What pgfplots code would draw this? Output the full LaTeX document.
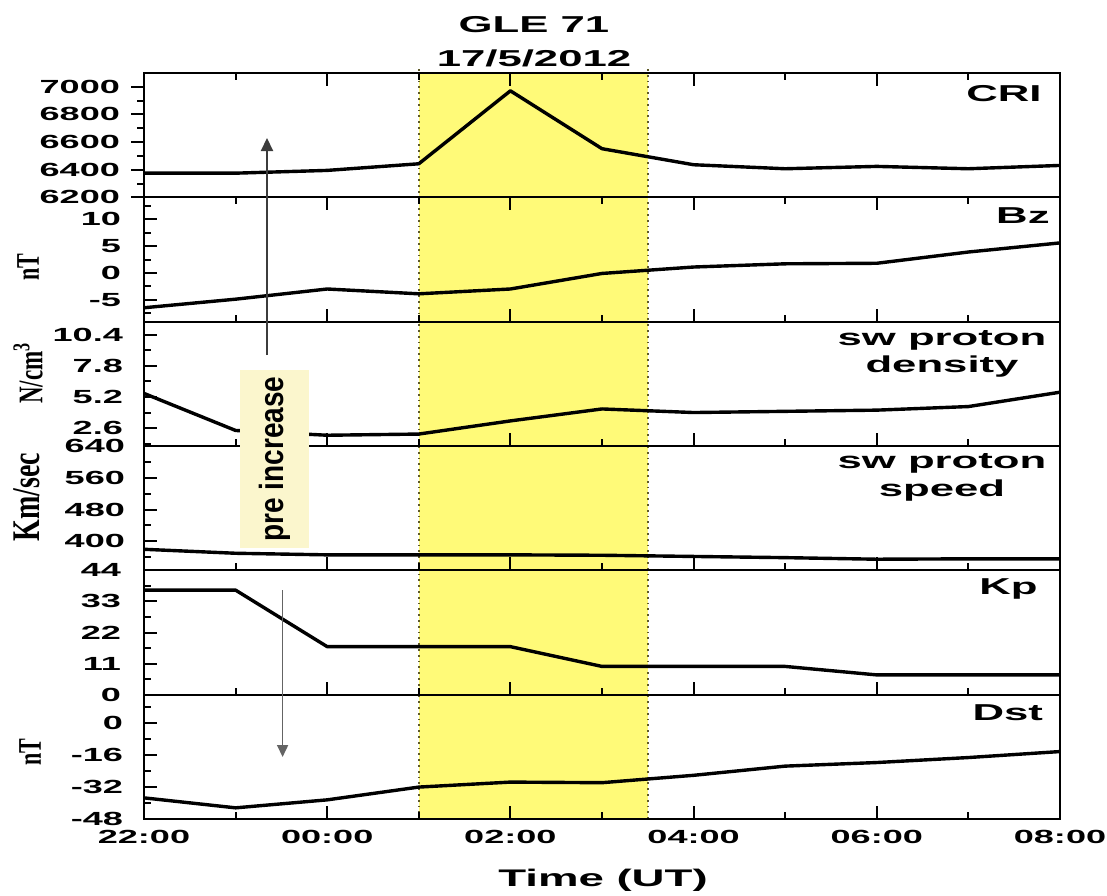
\documentclass[border=0pt]{standalone}
\usepackage{fontspec}
\usepackage{pgfplots}
\pgfplotsset{compat=1.18}
\usetikzlibrary{arrows.meta}

\newfontfamily\wide{Liberation Sans}[FakeStretch=1.9]
\newfontfamily\plainsans{Liberation Sans}
\newfontfamily\serifb{Liberation Serif}

\definecolor{band}{RGB}{255,250,120}
\definecolor{bandline}{RGB}{95,90,40}
\definecolor{labelbg}{RGB}{251,246,205}
\definecolor{arrowdark}{RGB}{60,60,60}
\definecolor{arrowgray}{RGB}{100,100,100}

\tikzset{
  plabel/.style={anchor=north east, inner sep=0pt, align=center,
    font=\wide\bfseries\fontsize{11.5}{13.8}\selectfont},
  dline/.style={black, line width=1.7pt, line join=round, mark=none},
}
\pgfplotsset{
  panel/.style={
    scale only axis, width=458pt, height=62.17pt, anchor=north west,
    xmin=0, xmax=10,
    xtick={0,2,...,10}, minor xtick={1,3,...,9}, xticklabels={},
    ytick pos=left, tick align=inside,
    axis line style={line width=1pt},
    major tick length=6.5pt, minor tick length=3.5pt,
    tick style={black, line width=1pt},
    tick label style={font=\wide\bfseries\fontsize{9.5}{10}\selectfont},
  },
}

\begin{document}
\begin{tikzpicture}
% picture frame (same proportions as the reference)
\path (-72pt,36.5pt) rectangle (481.5pt,-411pt);

% event window 01:00-03:30 (x = 3 h .. 5.5 h of 10 h across 458pt)
\fill[band] (137.4pt,0pt) rectangle (251.9pt,-373pt);
\draw[dotted, line width=0.9pt, bandline] (137.4pt,2pt) -- (137.4pt,-373pt);
\draw[dotted, line width=0.9pt, bandline] (251.9pt,2pt) -- (251.9pt,-373pt);

% CRI
\begin{axis}[panel, name=a1, at={(0,0)},
  ymin=6200, ymax=7100,
  ytick={6200,6400,6600,6800,7000}, yticklabels={6200,6400,6600,6800,7000},
  minor ytick={6300,6500,6700,6900},
  xtick pos=right, ytick align=outside,
  yticklabel style={xshift=-2pt}]
\addplot[dline] coordinates {(0,6375) (1,6375) (2,6395) (3,6443) (4,6971) (5,6552)
  (6,6436) (7,6407) (8,6424) (9,6407) (10,6431)};
\node[plabel] at ([xshift=-9pt,yshift=-6pt]rel axis cs:1,1) {CRI};
\end{axis}

% Bz
\begin{axis}[panel, name=a2, at={(0,-62.17pt)},
  ymin=-9.1, ymax=14.1,
  ytick={-5,0,5,10}, yticklabels={-5,0,5,10},
  minor ytick={-7.5,-2.5,2.5,7.5,12.5},
  xtick pos=both, yticklabel style={xshift=-8pt}]
\addplot[dline] coordinates {(0,-6.5) (1,-4.9) (2,-3.0) (3,-3.9) (4,-3.0) (5,-0.1)
  (6,1.1) (7,1.7) (8,1.8) (9,3.9) (10,5.6)};
\node[plabel] at ([xshift=-5pt,yshift=-4.8pt]rel axis cs:1,1) {Bz};
\end{axis}

% density
\begin{axis}[panel, name=a3, at={(0,-124.33pt)},
  ymin=1.1, ymax=11.5,
  ytick={2.6,5.2,7.8,10.4}, yticklabels={2.6,5.2,7.8,10.4},
  minor ytick={1.3,3.9,6.5,9.1},
  xtick pos=left, yticklabel style={xshift=-7pt}]
\addplot[dline] coordinates {(0,5.5) (1,2.4) (2,2.0) (3,2.1) (4,3.2) (5,4.2)
  (6,3.9) (7,4.0) (8,4.1) (9,4.4) (10,5.6)};
\node[plabel] at ([xshift=-6.6pt,yshift=-4pt]rel axis cs:1,1) {sw proton\\density};
\end{axis}

% speed
\begin{axis}[panel, name=a4, at={(0,-186.5pt)},
  ymin=327, ymax=640,
  ytick={400,480,560,640}, yticklabels={400,480,560,640},
  minor ytick={360,440,520,600},
  xtick pos=left, yticklabel style={xshift=-6pt}]
\addplot[dline] coordinates {(0,380) (1,370) (2,366) (3,366) (4,366) (5,365)
  (6,362) (7,359) (8,355) (9,356) (10,356)};
\node[plabel] at ([xshift=-6.6pt,yshift=-3.5pt]rel axis cs:1,1) {sw proton\\speed};
\end{axis}

% Kp
\begin{axis}[panel, name=a5, at={(0,-248.67pt)},
  ymin=0, ymax=44,
  ytick={0,11,22,33,44}, yticklabels={0,11,22,33,44},
  minor ytick={5.5,16.5,27.5,38.5},
  xtick pos=left, yticklabel style={xshift=-8pt}]
\addplot[dline] coordinates {(0,37) (1,37) (2,17) (3,17) (4,17) (5,10)
  (6,10) (7,10) (8,7) (9,7) (10,7)};
\node[plabel] at ([xshift=-11pt,yshift=-4pt]rel axis cs:1,1) {Kp};
\end{axis}

% Dst
\begin{axis}[panel, name=a6, at={(0,-310.83pt)},
  ymin=-48, ymax=14.3,
  ytick={-48,-32,-16,0}, yticklabels={-48,-32,-16,0},
  minor ytick={-40,-24,-8,8},
  xtick pos=left, yticklabel style={xshift=-7pt},
  xticklabels={22:00,00:00,02:00,04:00,06:00,08:00},
  xticklabel style={yshift=-2pt, inner xsep=0pt}]
\addplot[dline] coordinates {(0,-37.4) (1,-42.4) (2,-38.4) (3,-32) (4,-29.5) (5,-29.8)
  (6,-26.1) (7,-21.5) (8,-19.7) (9,-17.2) (10,-14.2)};
\node[plabel] at ([xshift=-8.3pt,yshift=-5pt]rel axis cs:1,1) {Dst};
\end{axis}

% title and axis titles
\node[font=\wide\bfseries\fontsize{11.5}{13}\selectfont] at (195pt,24pt) {GLE 71};
\node[font=\wide\bfseries\fontsize{11.5}{13}\selectfont] at (195pt,7.5pt) {17/5/2012};
\node[inner sep=0pt, font=\wide\bfseries\fontsize{12}{14}\selectfont] at (229.5pt,-403.5pt) {Time (UT)};

\node[rotate=90, inner sep=0pt, font=\serifb\bfseries\fontsize{11}{12}\selectfont] at (-58pt,-97pt) {\scalebox{1}[1.5]{nT}};
\node[rotate=90, inner sep=0pt, font=\serifb\bfseries\fontsize{11.5}{12}\selectfont] at (-58pt,-150pt) {\scalebox{1}[1.5]{N/cm\textsuperscript{3}}};
\node[rotate=90, inner sep=0pt, font=\serifb\bfseries\fontsize{14}{15}\selectfont] at (-58.5pt,-212pt) {\scalebox{1}[1.4]{Km/sec}};
\node[rotate=90, inner sep=0pt, font=\serifb\bfseries\fontsize{11}{12}\selectfont] at (-57pt,-339.5pt) {\scalebox{1}[1.5]{nT}};

% pre-increase annotation
\draw[-{Triangle[length=6.5pt,width=6pt]}, line width=1.1pt, arrowdark] (61.5pt,-141pt) -- (61.5pt,-32.5pt);
\draw[-{Triangle[length=6pt,width=5.5pt]}, line width=0.8pt, arrowgray] (69.3pt,-258.5pt) -- (69.3pt,-342pt);
\node[fill=labelbg, rotate=90, minimum width=89pt, minimum height=34.5pt, inner sep=0pt,
  font=\plainsans\bfseries\fontsize{14}{15}\selectfont] at (65.25pt,-193pt) {\scalebox{1}[1.2]{pre increase}};
\end{tikzpicture}
\end{document}
